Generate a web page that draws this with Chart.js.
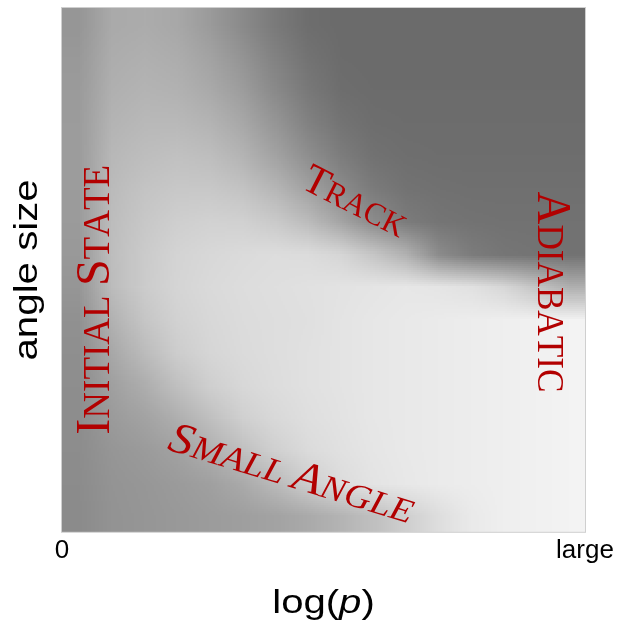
<!DOCTYPE html>
<html>
<head>
<meta charset="utf-8">
<script src="https://cdn.jsdelivr.net/npm/chart.js@4.4.1/dist/chart.umd.min.js"></script>
<style>
  html, body { margin: 0; padding: 0; background: #fff; }
  canvas { display: block; }
</style>
</head>
<body>
<canvas id="regimes" width="624" height="624"></canvas>
<script>
// cell centres along log(p) (0 = left, 1 = "large") and along angle size (top row first)
var logpCols = [0.031, 0.094, 0.156, 0.219, 0.281, 0.344, 0.406, 0.469,
                0.531, 0.594, 0.656, 0.719, 0.781, 0.844, 0.906, 0.969];
var angleRows = [0.969, 0.906, 0.844, 0.781, 0.719, 0.656, 0.594, 0.531,
                 0.469, 0.406, 0.344, 0.281, 0.219, 0.156, 0.094, 0.031];

// grey level (0-255), one row per angleRows entry
var shade = [
  [150,170,172,168,155,138,122,110,107,107,107,107,107,107,107,107],
  [153,173,176,173,163,148,130,115,108,107,107,107,107,107,107,107],
  [155,176,180,178,170,157,138,121,110,108,108,108,108,108,108,108],
  [156,180,185,185,180,168,150,130,116,110,109,109,109,109,109,109],
  [156,184,190,193,190,180,163,143,125,114,111,110,110,110,110,110],
  [156,187,196,200,200,195,182,162,140,123,115,113,112,112,112,112],
  [155,189,200,207,210,209,202,188,165,140,124,117,115,114,114,114],
  [153,190,203,212,216,219,221,220,214,198,178,140,124,118,116,115],
  [150,188,204,213,218,221,223,225,227,229,231,229,225,215,195,175],
  [145,178,198,210,216,220,222,224,228,231,233,235,237,239,241,243],
  [143,168,188,205,214,219,222,225,228,231,233,235,237,239,241,243],
  [142,160,174,192,207,216,221,225,228,231,233,235,237,239,241,243],
  [141,155,163,175,192,208,217,223,227,231,233,235,237,239,241,243],
  [141,150,155,162,175,192,208,219,225,230,233,235,237,239,241,243],
  [140,148,151,155,160,170,186,205,220,228,232,235,237,239,241,243],
  [139,147,150,153,156,159,163,170,180,192,207,222,234,239,241,243]
];

var xTickValues = [0, 1];
var xTickLabels = ['0', 'large'];

// regime names, written in small caps on the plot
var regimeNames = ['Initial State', 'Track', 'Adiabatic', 'Small Angle'];
var regimeX = [0.059, 0.562, 0.941, 0.440];
var regimeY = [0.443, 0.633, 0.458, 0.113];
var regimeAngle = [-90, 27, 90, 17];
var regimeSize = [48, 42, 48, 44];
var regimeItalic = [false, false, false, true];
var regimeStretch = [1.0, 0.97, 0.95, 1.1];

var cells = [];
angleRows.forEach(function (a, r) {
  logpCols.forEach(function (p, c) {
    cells.push({ x: p, y: a, v: shade[r][c] });
  });
});

// paints the cells as a smooth image, placed with the chart's own scales
var shadePlugin = {
  id: 'shade',
  beforeDatasetsDraw: function (chart) {
    var ds = chart.data.datasets[0];
    var nc = logpCols.length, nr = angleRows.length;
    var off = document.createElement('canvas');
    off.width = nc; off.height = nr;
    var octx = off.getContext('2d');
    var img = octx.createImageData(nc, nr);
    ds.data.forEach(function (d) {
      var i = (angleRows.indexOf(d.y) * nc + logpCols.indexOf(d.x)) * 4;
      img.data[i] = img.data[i + 1] = img.data[i + 2] = d.v;
      img.data[i + 3] = 255;
    });
    octx.putImageData(img, 0, 0);
    var xs = chart.scales.x, ys = chart.scales.y;
    var l = xs.getPixelForValue(0), r = xs.getPixelForValue(1);
    var t = ys.getPixelForValue(1), b = ys.getPixelForValue(0);
    var ctx = chart.ctx;
    ctx.save();
    ctx.imageSmoothingEnabled = true;
    ctx.imageSmoothingQuality = 'low';
    ctx.drawImage(off, l, t, r - l, b - t);
    ctx.strokeStyle = '#cfcfcf';
    ctx.lineWidth = 1;
    ctx.strokeRect(l - 0.5, t - 0.5, r - l + 1, b - t + 1);
    ctx.restore();
  }
};

function drawSmallCaps(ctx, text, size, italic, family) {
  var big = size, small = Math.round(size * 0.77);
  var style = italic ? 'italic ' : '';
  var runs = text.split('').map(function (ch) {
    var isBig = ch !== ' ' && ch === ch.toUpperCase();
    return { ch: ch.toUpperCase(), font: style + (isBig ? big : small) + 'px ' + family };
  });
  var w = 0;
  runs.forEach(function (run) { ctx.font = run.font; run.w = ctx.measureText(run.ch).width; w += run.w; });
  var x = -w / 2, base = big * 0.662 / 2;
  runs.forEach(function (run) { ctx.font = run.font; ctx.fillText(run.ch, x, base); x += run.w; });
}

var labelPlugin = {
  id: 'labels',
  afterDraw: function (chart) {
    var ctx = chart.ctx, xs = chart.scales.x, ys = chart.scales.y, area = chart.chartArea;
    ctx.save();
    ctx.fillStyle = '#b20000';
    ctx.textBaseline = 'alphabetic';
    ctx.textAlign = 'left';
    regimeNames.forEach(function (name, i) {
      ctx.save();
      ctx.translate(xs.getPixelForValue(regimeX[i]), ys.getPixelForValue(regimeY[i]));
      ctx.rotate(regimeAngle[i] * Math.PI / 180);
      ctx.scale(regimeStretch[i], 1);
      drawSmallCaps(ctx, name, regimeSize[i], regimeItalic[i], '"Liberation Serif", serif');
      ctx.restore();
    });

    // axis titles
    ctx.fillStyle = '#000';
    ctx.textAlign = 'center';
    ctx.save();
    ctx.translate(area.left - 25, (area.top + area.bottom) / 2);
    ctx.rotate(-Math.PI / 2);
    ctx.scale(1.22, 1);
    ctx.font = '33px "Liberation Sans", Arial, sans-serif';
    ctx.fillText('angle size', 0, 0);
    ctx.restore();

    ctx.save();
    ctx.translate((area.left + area.right) / 2, 613);
    ctx.scale(1.18, 1);
    ctx.textAlign = 'left';
    var parts = [['log(', ''], ['p', 'italic '], [')', '']];
    var tw = 0;
    parts.forEach(function (p) { ctx.font = p[1] + '34px "Liberation Sans", Arial, sans-serif'; p.w = ctx.measureText(p[0]).width; tw += p.w; });
    var px = -tw / 2;
    parts.forEach(function (p) { ctx.font = p[1] + '34px "Liberation Sans", Arial, sans-serif'; ctx.fillText(p[0], px, 0); px += p.w; });
    ctx.restore();
    ctx.restore();
  }
};

var ctx = document.getElementById('regimes').getContext('2d');
var regimeChart = new Chart(ctx, {
  type: 'scatter',
  data: {
    datasets: [{
      label: 'shade',
      data: cells,
      pointRadius: 0,
      pointHoverRadius: 0
    }]
  },
  options: {
    responsive: false,
    animation: false,
    devicePixelRatio: 1,
    layout: { padding: { left: 62, top: 8, right: 39, bottom: 55 } },
    plugins: { legend: { display: false }, tooltip: { enabled: false } },
    scales: {
      x: {
        type: 'linear', min: 0, max: 1,
        grid: { display: false, drawTicks: false },
        border: { display: false },
        afterBuildTicks: function (scale) {
          scale.ticks = xTickValues.map(function (v) { return { value: v }; });
        },
        ticks: {
          autoSkip: false, maxRotation: 0, padding: 3, color: '#000',
          font: { family: '"Liberation Sans", Arial, sans-serif', size: 26 },
          callback: function (v) { return xTickLabels[xTickValues.indexOf(v)]; }
        }
      },
      y: { type: 'linear', min: 0, max: 1, display: false }
    }
  },
  plugins: [shadePlugin, labelPlugin]
});
</script>
</body>
</html>
